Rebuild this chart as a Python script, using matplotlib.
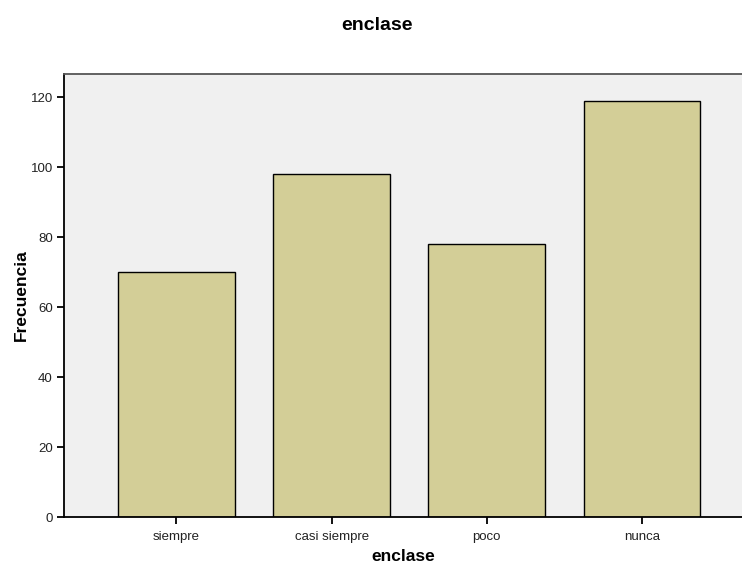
import matplotlib
matplotlib.use("Agg")
import matplotlib.pyplot as plt

categories = ["siempre", "casi siempre", "poco", "nunca"]
frecuencia = [70, 98, 78, 119]
y_ticks = [0, 20, 40, 60, 80, 100, 120]

plt.rcParams["font.family"] = ["Liberation Sans", "DejaVu Sans"]

fig = plt.figure(figsize=(7.42, 5.65), dpi=100)
ax = fig.add_axes([64 / 742, 48 / 565, 678 / 742, 443 / 565])
ax.set_facecolor("#F0F0F0")

pos = list(range(len(categories)))
ax.bar(pos, frecuencia, width=0.753, color="#D3CE97", edgecolor="black",
       linewidth=1.0, zorder=2)

ax.set_xlim(-0.724, 3.644)
ax.set_ylim(0, 126.7)
ax.set_xticks(pos)
ax.set_xticklabels(categories, fontsize=9.5, color="#222222")
ax.set_yticks(y_ticks)
ax.set_yticklabels([str(v) for v in y_ticks], fontsize=9.5, color="#222222")
ax.tick_params(axis="both", direction="out", length=5, width=1.3, color="black", pad=3)
ax.tick_params(axis="x", pad=5)

for side in ("left", "bottom"):
    ax.spines[side].set_color("black")
    ax.spines[side].set_linewidth(1.3)
ax.spines["top"].set_color("#555555")
ax.spines["top"].set_linewidth(1.3)
ax.spines["right"].set_visible(False)

ax.set_xlabel("enclase", fontsize=12.5, fontweight="bold", labelpad=4.5)
ax.set_ylabel("Frecuencia", fontsize=12.5, fontweight="bold", labelpad=1)
fig.text(377 / 742, 1 - 25 / 565, "enclase", ha="center", va="center",
         fontsize=14, fontweight="bold")

fig.savefig("out.png", dpi=100)
